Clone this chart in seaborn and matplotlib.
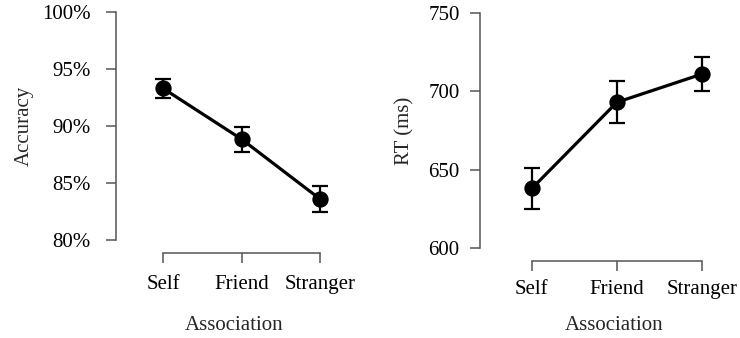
import matplotlib
matplotlib.use("Agg")
import matplotlib.pyplot as plt
import seaborn as sns
import pandas as pd
from matplotlib.ticker import FuncFormatter

categories = ["Self", "Friend", "Stranger"]
accuracy = [93.3, 88.85, 83.6]
accuracy_se = [0.85, 1.1, 1.1]
rt = [638.0, 693.0, 711.0]
rt_se = [13.0, 13.5, 11.0]
acc_ticks = [80, 85, 90, 95, 100]
rt_ticks = [600, 650, 700, 750]

FS = 15

sns.set_theme(style="ticks")
plt.rcParams["font.family"] = ["Liberation Serif", "DejaVu Serif"]
plt.rcParams["font.size"] = FS

W, H = 740, 338
fig = plt.figure(figsize=(W / 100, H / 100), dpi=100)


def px_axes(left, right, top, bottom):
    return fig.add_axes([left / W, 1 - bottom / H, (right - left) / W, (bottom - top) / H])


def style(ax, ticks, ylim, xlim, ypad, xpad):
    ax.set_ylim(*ylim)
    ax.set_xlim(*xlim)
    ax.set_yticks(ticks)
    ax.set_xticks(range(len(categories)))
    ax.set_xticklabels(categories)
    for side in ("top", "right"):
        ax.spines[side].set_visible(False)
    ax.spines["bottom"].set_position(("outward", 9.4))
    ax.spines["bottom"].set_bounds(0, len(categories) - 1)
    ax.spines["left"].set_bounds(ylim[0], ylim[1])
    for side in ("left", "bottom"):
        ax.spines[side].set_color("#555555")
        ax.spines[side].set_linewidth(1.1)
    ax.tick_params(axis="both", colors="#555555", length=7.5, width=1.1,
                   labelcolor="black", labelsize=FS)
    ax.tick_params(axis="y", pad=ypad)
    ax.tick_params(axis="x", pad=xpad)
    ax.set_facecolor("none")
    ax.set_xlabel("Association", fontsize=FS)


def draw(ax, values, errors):
    df = pd.DataFrame({"Association": categories, "value": values})
    sns.pointplot(data=df, x="Association", y="value", color="black",
                  errorbar=None, markersize=10, linewidth=2.3, ax=ax)
    ax.errorbar(range(len(categories)), values, yerr=errors, fmt="none",
                ecolor="black", elinewidth=1.6, capsize=5.5, capthick=1.6)


# accuracy panel
ax1 = px_axes(116, 367, 12, 240)
draw(ax1, accuracy, accuracy_se)
style(ax1, acc_ticks, (80, 100), (-0.6, 2.6), 10.8, 8.4)
ax1.yaxis.set_major_formatter(FuncFormatter(lambda v, _: f"{v:.0f}%"))
ax1.set_ylabel("Accuracy", fontsize=FS)
ax1.yaxis.set_label_coords((34 - 116) / 251, 0.5)
ax1.xaxis.set_label_coords((234 - 116) / 251, (240 - 316) / 228)

# reaction time panel
ax2 = px_axes(480, 735, 13, 248)
draw(ax2, rt, rt_se)
style(ax2, rt_ticks, (600, 750), (-0.61, 2.39), 7.2, 6.3)
ax2.set_ylabel("RT (ms)", fontsize=FS)
ax2.yaxis.set_label_coords((414 - 480) / 255, 0.5)
ax2.xaxis.set_label_coords((614.5 - 480) / 255, (248 - 316) / 235)

fig.savefig("out.png", dpi=100)
